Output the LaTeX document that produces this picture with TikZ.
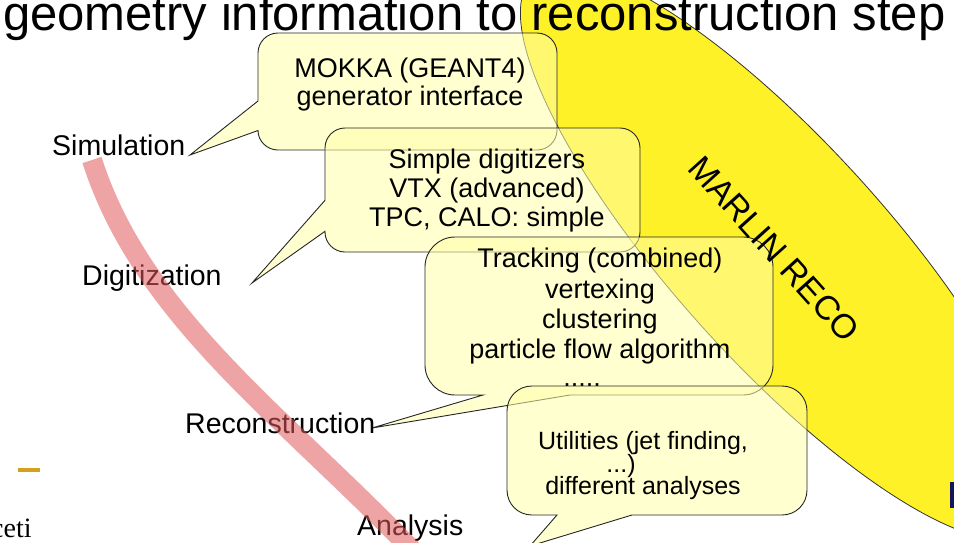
\documentclass[tikz,border=0pt]{standalone}
\usepackage{fontspec}
\setmainfont{Liberation Sans}
\newfontfamily\serifeti{Liberation Serif}
\definecolor{ellfill}{RGB}{255,241,40}
\definecolor{callfill}{RGB}{255,255,170}
\definecolor{bandcol}{RGB}{225,90,90}
\definecolor{golddash}{RGB}{212,160,30}
\definecolor{navyedge}{RGB}{20,20,90}
\begin{document}
\begin{tikzpicture}[x=1pt,y=-1pt,
  lbl/.style={anchor=base west, inner sep=0pt, font=\fontsize{28.5}{32}\selectfont},
  ln/.style={anchor=base, inner sep=0pt, font=\fontsize{27}{30}\selectfont},
  lnsmall/.style={anchor=base, inner sep=0pt, font=\fontsize{25}{28}\selectfont},
  callout/.style={draw=black!85, line width=0.9pt, fill=callfill, fill opacity=0.55, draw opacity=1},
  ellstyle/.style={fill=ellfill, draw=black!80, line width=0.8pt},
  bandstyle/.style={draw=bandcol, draw opacity=0.55, line width=20pt, line cap=butt}]
\useasboundingbox (0,0) rectangle (954,542);
\clip (0,0) rectangle (954,542);
\fill[white] (0,0) rectangle (954,542);

% MARLIN RECO ellipse
\coordinate (ellc) at (782,254);
\draw[ellstyle, rotate around={-48:(ellc)}] (ellc) ellipse [x radius=372, y radius=108];

% title (cut off at top)
\node[anchor=base west, inner sep=0pt, font=\fontsize{49}{52}\selectfont] (title) at (3,30) {geometry information to reconstruction step};

% callout MOKKA
\coordinate (t1) at (190,155);
\draw[callout] (278,33) -- (537,33) .. controls (548,33) and (557,42) .. (557,53)
  -- (557,130) .. controls (557,141) and (548,150) .. (537,150)
  -- (278,150) .. controls (267,150) and (258,141) .. (258,130.5)
  -- (t1) -- (258,101) -- (258,53) .. controls (258,42) and (267,33) .. (278,33) -- cycle;
\node[ln] (m1) at (410,77) {MOKKA (GEANT4)};
\node[ln] (m2) at (410,105) {generator interface};

% callout Simple digitizers
\coordinate (t2) at (252,283);
\draw[callout] (345,128) -- (620,128) .. controls (631,128) and (640,137) .. (640,148)
  -- (640,232) .. controls (640,243) and (631,252) .. (620,252)
  -- (345,252) .. controls (334,252) and (325,243) .. (325,232)
  -- (325,231.3) -- (t2) -- (325,200.3) -- (325,148) .. controls (325,137) and (334,128) .. (345,128) -- cycle;
\node[ln] (s1) at (487,168) {Simple digitizers};
\node[ln] (s2) at (487,197) {VTX (advanced)};
\node[ln] (s3) at (487,226) {TPC, CALO: simple};

% callout Tracking
\coordinate (t3) at (372,428);
\draw[callout] (455,237) -- (743,237) .. controls (759.5,237) and (773,250.5) .. (773,267)
  -- (773,365) .. controls (773,381.5) and (759.5,395) .. (743,395)
  -- (570,395) -- (t3) -- (483,395)
  -- (455,395) .. controls (438.5,395) and (425,381.5) .. (425,365)
  -- (425,267) .. controls (425,250.5) and (438.5,237) .. (455,237) -- cycle;
\node[ln] (r1) at (600,267) {Tracking (combined)};
\node[ln] (r2) at (600,298) {vertexing};
\node[ln] (r3) at (600,328) {clustering};
\node[ln] (r4) at (600,358) {particle flow algorithm};
\node[ln] (r5) at (582,386) {.....};

% callout Utilities
\coordinate (t4) at (530,546);
\draw[callout] (532,386) -- (782,386) .. controls (796,386) and (807,397) .. (807,411)
  -- (807,490) .. controls (807,504) and (796,515) .. (782,515)
  -- (632,515) -- (t4) -- (557,515)
  -- (532,515) .. controls (518,515) and (507,504) .. (507,490)
  -- (507,411) .. controls (507,397) and (518,386) .. (532,386) -- cycle;
\node[lnsmall] (u1) at (643,449) {Utilities (jet finding,};
\node[lnsmall] (u2) at (621,472) {...)};
\node[lnsmall] (u3) at (643,494) {different analyses};

% MARLIN text
\node[inner sep=0pt, rotate=-48, font=\fontsize{34}{38}\selectfont] (marlin) at (774,249) {MARLIN RECO};

% stage labels
\node[lbl] (sim) at (52,155) {Simulation};
\node[lbl] (dig) at (82,285) {Digitization};
\node[lbl] (rec) at (185,433) {Reconstruction};
\node[lbl] (ana) at (357,535) {Analysis};

% pink band
\draw[bandstyle] (92,160) .. controls (141.7,315.5) and (281.3,414) .. (412,550);

% slide fragments
\fill[golddash] (18,468) rectangle (40,472);
\node[anchor=base west, inner sep=0pt, font=\serifeti\fontsize{28}{30}\selectfont] (frag) at (-9,537) {ceti};
\fill[navyedge] (950,482) rectangle (955,508);
\end{tikzpicture}
\end{document}
